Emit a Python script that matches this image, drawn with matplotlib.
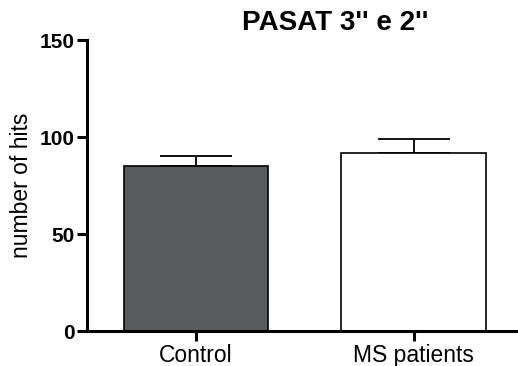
import matplotlib.pyplot as plt
import numpy as np

plt.rcParams['font.family'] = ['Liberation Sans', 'DejaVu Sans']

groups = ['Control', 'MS patients']
means = [85.2, 91.8]
sem = [5.2, 7.3]
colors = ['#595b5c', '#ffffff']

fig = plt.figure(figsize=(5.18, 3.66), dpi=100)
ax = fig.add_axes([0.168, 0.0956, 0.832, 0.795])

x = np.arange(len(groups))
ax.bar(x, means, width=0.664, color=colors, edgecolor='black', linewidth=1.2, zorder=2)
ax.errorbar(x, means, yerr=[np.zeros(len(sem)), sem], fmt='none', ecolor='black',
            elinewidth=1.3, capsize=26, capthick=1.3, zorder=1)

ax.set_xlim(-0.5, 1.48)
ax.set_ylim(0, 150)
ax.set_yticks([0, 50, 100, 150])
ax.set_xticks(x)
ax.set_xticklabels(groups, fontsize=16.5)
for lab in ax.get_yticklabels():
    lab.set_fontsize(15)
    lab.set_fontweight('bold')

ax.spines['top'].set_visible(False)
ax.spines['right'].set_visible(False)
ax.spines['left'].set_linewidth(2.2)
ax.spines['bottom'].set_linewidth(2.2)
ax.tick_params(axis='both', width=2.2, length=7)
ax.tick_params(axis='y', pad=2)
ax.tick_params(axis='x', pad=2)

ax.set_ylabel('number of hits', fontsize=16.5, labelpad=5)
fig.text(0.647, 0.937, 'PASAT 3\'\' e 2\'\'', fontsize=20, fontweight='bold',
         ha='center', va='center')

fig.savefig('out.png', dpi=100)
